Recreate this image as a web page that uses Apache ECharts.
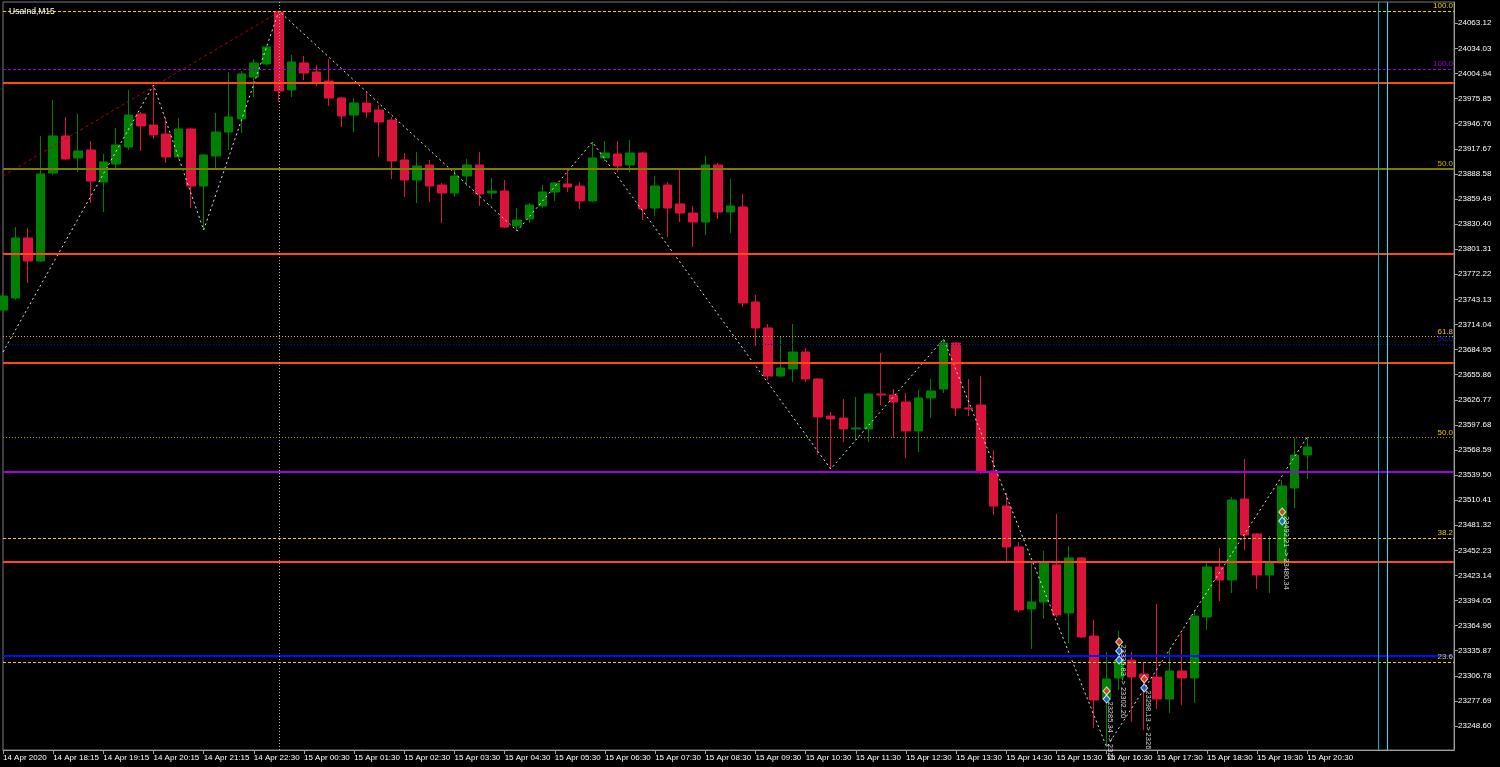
<!DOCTYPE html>
<html><head><meta charset="utf-8">
<script src="https://cdn.jsdelivr.net/npm/echarts@6/dist/echarts.min.js"></script>
<style>html,body{margin:0;padding:0;background:#000;}#c{width:1500px;height:767px;}</style>
</head><body><div id="c"></div>
<script>
// ---- data ----
const chartTitle = 'UsaInd,M15';
// bar index of each time label
const xTickIndex = [0,4,8,12,16,20,24,28,32,36,40,44,48,52,56,60,64,68,72,76,80,84,88,92,96,100,104];
const xTickLabels = ['14 Apr 2020','14 Apr 18:15','14 Apr 19:15','14 Apr 20:15','14 Apr 21:15','14 Apr 22:30',
  '15 Apr 00:30','15 Apr 01:30','15 Apr 02:30','15 Apr 03:30','15 Apr 04:30','15 Apr 05:30','15 Apr 06:30',
  '15 Apr 07:30','15 Apr 08:30','15 Apr 09:30','15 Apr 10:30','15 Apr 11:30','15 Apr 12:30','15 Apr 13:30',
  '15 Apr 14:30','15 Apr 15:30','15 Apr 16:30','15 Apr 17:30','15 Apr 18:30','15 Apr 19:30','15 Apr 20:30'];
const yTicks = [24063.12,24034.03,24004.94,23975.85,23946.76,23917.67,23888.58,23859.49,23830.40,23801.31,
  23772.22,23743.13,23714.04,23684.95,23655.86,23626.77,23597.68,23568.59,23539.50,23510.41,23481.32,
  23452.23,23423.14,23394.05,23364.96,23335.87,23306.78,23277.69,23248.60];
const priceMin = 23220.8, priceMax = 24087.8;
const barsVisible = 115.7;
// [open, close, low, high]
const candles = [
[23730.8,23747.0,23728.5,23751.7],[23744.7,23814.3,23742.4,23827.0],[23814.3,23787.6,23762.1,23825.9],
[23787.6,23888.5,23786.4,23932.5],[23889.6,23932.5,23887.3,23974.2],[23932.5,23905.8,23904.7,23954.5],
[23907.0,23915.1,23890.8,23958.0],[23916.3,23880.3,23854.8,23926.7],[23879.2,23902.4,23844.4,23911.6],
[23900.0,23922.1,23895.4,23941.8],[23919.7,23956.8,23916.3,23985.8],[23958.0,23944.1,23915.1,23960.3],
[23945.2,23933.7,23929.0,23991.6],[23934.8,23908.2,23901.2,23953.4],[23908.2,23940.6,23905.8,23953.4],
[23940.6,23874.5,23849.0,23941.8],[23874.5,23910.5,23823.5,23911.6],[23909.3,23937.1,23893.1,23959.2],
[23937.1,23954.5,23916.3,24006.7],[23952.2,24004.4,23936.0,24007.8],[24000.9,24017.1,23977.7,24021.7],
[24016.0,24035.7,24014.8,24036.8],[24076.2,23984.7,23971.9,24077.4],[23985.8,24018.3,23977.7,24026.4],
[24017.1,24005.5,23997.4,24025.2],[24006.7,23993.9,23990.5,24014.8],[23996.2,23976.5,23967.3,24021.7],
[23976.5,23955.7,23942.9,23977.7],[23956.8,23970.7,23937.1,23976.5],[23970.7,23960.3,23953.4,23983.5],
[23962.6,23948.7,23908.2,23968.4],[23951.0,23903.5,23882.7,23954.5],[23904.7,23881.5,23861.8,23912.8],
[23881.5,23897.7,23854.8,23914.0],[23898.9,23874.5,23856.0,23904.7],[23875.7,23866.4,23831.7,23878.0],
[23866.4,23886.1,23861.8,23895.4],[23886.1,23898.9,23874.5,23905.8],[23898.9,23865.3,23851.4,23914.0],
[23866.4,23868.7,23859.5,23883.8],[23868.7,23827.0,23825.9,23881.5],[23828.2,23835.1,23822.4,23849.0],
[23836.3,23852.5,23831.7,23854.8],[23851.4,23867.6,23849.0,23875.7],[23867.6,23878.0,23857.2,23879.2],
[23876.9,23873.4,23867.6,23894.2],[23874.5,23857.2,23847.9,23879.2],[23857.2,23907.0,23856.0,23925.5],
[23907.0,23912.8,23903.5,23926.7],[23911.6,23897.7,23890.8,23926.7],[23898.9,23912.8,23890.8,23927.9],
[23912.8,23847.9,23835.1,23914.0],[23849.0,23874.5,23839.8,23886.1],[23875.7,23849.0,23815.4,23879.2],
[23853.7,23843.2,23832.8,23894.2],[23843.2,23832.8,23803.8,23851.4],[23832.8,23898.9,23817.7,23909.3],
[23898.9,23844.4,23836.3,23901.2],[23844.4,23851.4,23820.1,23882.7],[23850.2,23738.9,23734.3,23865.3],
[23740.1,23710.0,23689.1,23748.2],[23710.0,23654.3,23649.7,23714.6],[23654.3,23663.6,23653.2,23699.5],
[23662.4,23682.1,23647.4,23714.6],[23682.1,23650.8,23647.4,23686.8],[23650.8,23606.8,23562.7,23651.9],
[23607.9,23604.5,23546.5,23612.6],[23605.6,23592.9,23577.8,23627.7],[23592.9,23594.0,23580.1,23630.0],
[23592.9,23633.4,23577.8,23634.6],[23633.4,23632.3,23620.7,23681.0],[23632.3,23624.2,23582.5,23639.2],
[23624.2,23590.6,23559.3,23634.6],[23590.6,23628.8,23566.2,23638.1],[23628.8,23636.9,23605.6,23650.8],
[23639.2,23692.6,23634.6,23697.2],[23692.6,23617.2,23607.9,23693.7],[23617.2,23616.1,23607.9,23650.8],
[23620.7,23544.2,23540.7,23654.3],[23544.2,23503.6,23493.2,23568.5],[23503.6,23456.1,23437.6,23518.7],
[23456.1,23383.1,23380.8,23461.9],[23384.2,23392.4,23337.9,23438.7],[23392.4,23437.6,23372.7,23451.5],
[23435.3,23377.3,23375.0,23494.4],[23379.6,23443.4,23344.8,23457.3],[23443.4,23351.8,23350.6,23444.5],
[23352.9,23278.8,23246.3,23371.5],[23279.9,23303.1,23224.3,23334.4],[23304.3,23325.1,23290.4,23358.7],
[23325.1,23305.4,23253.3,23334.4],[23308.9,23304.3,23244.0,23321.6],[23305.4,23279.9,23268.3,23390.0],
[23279.9,23312.4,23263.7,23337.9],[23312.4,23304.3,23273.0,23356.4],[23304.3,23376.1,23275.3,23383.1],
[23375.0,23432.9,23359.9,23438.7],[23432.9,23417.9,23393.5,23454.9],[23417.9,23510.6,23402.8,23514.1],
[23511.7,23470.0,23452.6,23558.1],[23471.2,23423.7,23407.4,23472.3],[23423.7,23438.7,23402.8,23468.9],
[23437.6,23526.8,23436.4,23533.8],[23524.5,23562.7,23501.3,23582.5],[23562.7,23572.0,23534.9,23583.6]
];
// zigzag swing points [barIndex, price]
const zigzag = [[0,23682.1],[12,23991.6],[16,23823.5],[22,24077.4],[41,23822.4],[47,23925.5],
  [66,23546.5],[75,23697.2],[88,23224.3],[104,23583.6]];
const trendLine = [[0,23886.1],[22,24076.2]];
// horizontal levels: price, colour, style, width, label
const levelPrice = [24077.4,24009.8,23994.3,23894.2,23796.5,23699.9,23691.4,23669.4,23582.8,23543.4,23466.2,23439.5,23329.8,23322.5];
const levelColor = ['#f0d000','#9b00d8','#ff4a12','#7d7d00','#ff4a12','#d8c000','#1010a0','#ff4a12','#b09a00','#a000dc','#f0d000','#ff4a12','#0010ff','#f0d000'];
const levelStyle = ['dashed','dashed','solid','solid','solid','dotted','dotted','solid','dotted','solid','dashed','solid','solid','dashed'];
const levelWidth = [1,1,2,2,2,1,1,2,1,2,1,2,2,1];
const levelLabel = ['100.0','100.0','','50.0','','61.8','50.0','','50.0','','38.2','','','23.6'];
const levelLabelColor = ['#f0d000','#9b00d8','','#d4b000','','#e8c800','#2020c0','','#e8c800','','#e8c800','','','#e8c800'];
const vLineBar = [22];
const vCyan = [109.65, 110.35];
// trade arrows [barIndex, price, kind]
const arrows = [[88,23289.2,'sell'],[88,23279.9,'buy'],[89,23346.0,'sell'],[89,23335.6,'buy'],[89,23325.1,'buy'],
  [91,23303.1,'sell'],[91,23292.7,'buy'],[102,23496.7,'sell'],[102,23486.2,'buy']];
const tradeTexts = [[88.3,23277.0,'23285.34 -> 2322'],[89.3,23343.0,'23335.83 -> 23302.20'],
  [91.3,23290.0,'23298.13 -> 2326'],[102.3,23492.0,'23492.21 -> 23480.34']];

// ---- chart ----
const FONT = 'Liberation Sans';
const chart = echarts.init(document.getElementById('c'));
const dashMap = {dashed:[3,2], dotted:[1,2], solid:'solid'};
const levelLines = levelPrice.map((p,i)=>({
  yAxis: p,
  lineStyle:{color:levelColor[i], type:dashMap[levelStyle[i]], width:levelWidth[i], opacity:1},
  label:{show: !!levelLabel[i], formatter: levelLabel[i], color: levelLabelColor[i] || '#fff',
    position:'insideEndTop', fontSize:8, fontFamily:FONT, distance:[1,1]}
}));
const vLines = vLineBar.map(b=>({xAxis:b, lineStyle:{color:'#b8b8b8', type:[1,2], width:1}, label:{show:false}}))
  .concat([{xAxis:vCyan[0], lineStyle:{color:'#10b0b8', type:'solid', width:1}, label:{show:false}},
           {xAxis:vCyan[1], lineStyle:{color:'#20e8f8', type:'solid', width:1}, label:{show:false}}]);

const tickLabelMap = {};
xTickIndex.forEach((v,i)=>{tickLabelMap[v]=xTickLabels[i];});

chart.setOption({
  backgroundColor:'#000',
  animation:false,
  title:{text:chartTitle, left:4, top:2, textStyle:{color:'#fff', fontSize:8.5, fontWeight:'normal', fontFamily:FONT}},
  grid:{left:2, right:46, top:2, bottom:17, show:true, borderColor:'#7a7a7a', borderWidth:1, backgroundColor:'transparent'},
  xAxis:{type:'value', min:0, max:barsVisible,
    axisLine:{show:true, onZero:false, lineStyle:{color:'#a0a0a0'}},
    axisTick:{show:true, customValues:xTickIndex, length:4, lineStyle:{color:'#a0a0a0'}},
    axisLabel:{show:true, customValues:xTickIndex, formatter:v=>tickLabelMap[v]||'', color:'#fff', fontSize:8,
      fontFamily:FONT, align:'left', margin:4},
    splitLine:{show:false}},
  yAxis:{type:'value', position:'right', min:priceMin, max:priceMax,
    axisLine:{show:true, onZero:false, lineStyle:{color:'#a0a0a0'}},
    axisTick:{show:true, customValues:yTicks, length:4, lineStyle:{color:'#a0a0a0'}},
    axisLabel:{show:true, customValues:yTicks, formatter:v=>v.toFixed(2), color:'#fff', fontSize:8, fontFamily:FONT, margin:4},
    splitLine:{show:false}},
  series:[
    {type:'candlestick', name:'price', z:2, barWidth:9,
      data:candles.map((d,i)=>[i,d[0],d[1],d[2],d[3]]),
      encode:{x:0, y:[1,2,3,4]},
      itemStyle:{color:'#008000', color0:'#dc143c', borderColor:'#008000', borderColor0:'#dc143c', borderWidth:1}},
    {type:'line', name:'levels', z:1, data:[], silent:true,
      markLine:{silent:true, symbol:['none','none'], animation:false, data:levelLines.concat(vLines)}},
    {type:'line', name:'zigzag', z:4, data:zigzag, symbol:'none', silent:true,
      lineStyle:{color:'#e4e4d4', type:[2,3], width:1}},
    {type:'line', name:'trend', z:3, data:trendLine, symbol:'none', silent:true,
      lineStyle:{color:'#b80000', type:[3,3], width:1}},
    {type:'scatter', name:'arrows', z:6, silent:true, symbol:'diamond', symbolSize:[7,8],
      data:arrows.map(a=>({value:[a[0],a[1]], itemStyle:{color:a[2]==='sell'?'#ff4020':'#2070ff', borderColor:'#fff', borderWidth:1}}))},
    {type:'scatter', name:'tradeText', z:6, silent:true, symbolSize:0,
      data:tradeTexts.map(t=>({value:[t[0],t[1]], name:t[2]})),
      label:{show:true, position:'inside', formatter:p=>p.name, rotate:-90, align:'left', verticalAlign:'middle',
        color:'#fff', fontSize:7.5, fontFamily:FONT}}
  ]
});
</script></body></html>
